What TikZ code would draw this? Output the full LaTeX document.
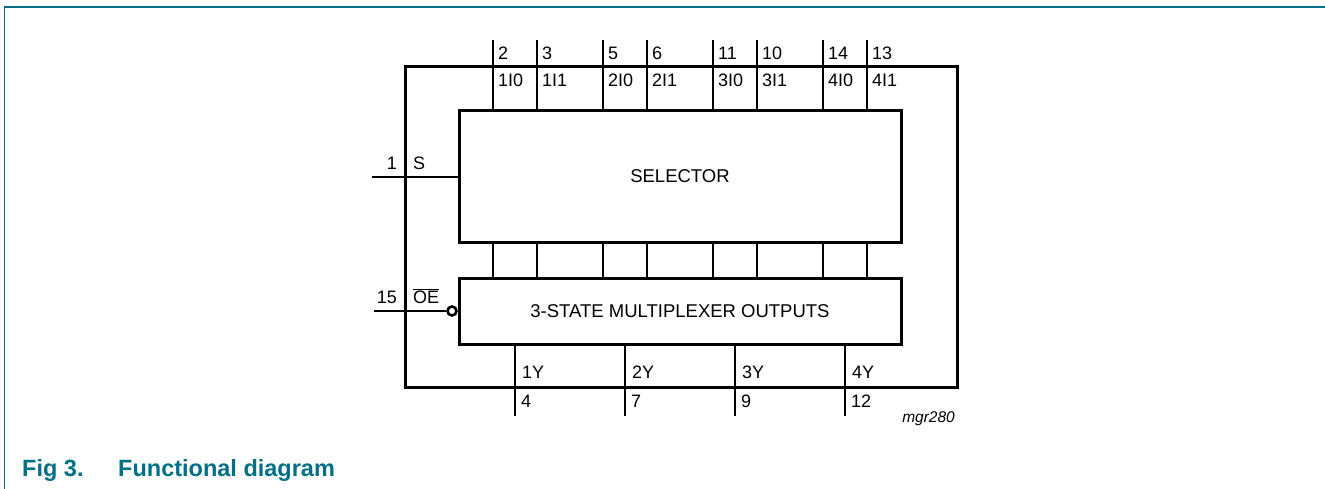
\documentclass[tikz,border=0pt]{standalone}
\usepackage{fontspec}
\setmainfont{Liberation Sans}
\definecolor{nxpteal}{RGB}{0,112,135}
\begin{document}
\begin{tikzpicture}[x=1pt,y=-1pt,
  box/.style={draw,line width=3pt,inner sep=0pt,outer sep=0pt,anchor=north west,
    font=\fontsize{18.5}{21}\selectfont},
  wire/.style={line width=1.3pt},
  lblw/.style={inner sep=0pt,anchor=base west,font=\fontsize{18}{21}\selectfont},
  lble/.style={inner sep=0pt,anchor=base east,font=\fontsize{18}{21}\selectfont},
  capt/.style={inner sep=0pt,anchor=base west,text=nxpteal,font=\fontsize{23.5}{27}\selectfont\bfseries}]
\useasboundingbox (0,0) rectangle (1325,489);
% frame
\draw[nxpteal,line width=1.3pt] (4.5,489) -- (4.5,7) -- (1325,7);
% boxes
\node[box,minimum width=552pt,minimum height=320pt] (outer) at (405,67) {};
\node[box,minimum width=442pt,minimum height=131pt] (sel) at (459,111) {SELECTOR};
\node[box,minimum width=442pt,minimum height=66pt] (mux) at (459,278) {3-STATE MULTIPLEXER OUTPUTS};
% top inputs
\foreach \x/\n/\l [count=\i] in {493/2/1I0,537/3/1I1,603/5/2I0,647/6/2I1,713/11/3I0,757/10/3I1,823/14/4I0,867/13/4I1}{
  \coordinate (t\i) at (\x,40);
  \draw[wire] (t\i) -- (t\i |- sel.north);
  \draw[wire] (t\i |- sel.south) -- (t\i |- mux.north);
  \node[lblw] (tn\i) at (\x+5,60) {\n};
  \node[lblw] (tl\i) at (\x+5,87) {\l};
}
% outputs
\foreach \x/\n/\l [count=\i] in {515/4/1Y,625/7/2Y,735/9/3Y,845/12/4Y}{
  \coordinate (o\i) at (\x,416);
  \draw[wire] (o\i |- mux.south) -- (o\i);
  \node[lblw] (ol\i) at (\x+7,378) {\l};
  \node[lblw] (on\i) at (\x+6,407) {\n};
}
% S input
\coordinate (sin) at (372,177);
\draw[wire] (sin) -- (sin -| sel.west);
\node[lble] (sn) at (397,170) {1};
\node[lblw] (sl) at (413,170) {S};
% OE input
\coordinate (oein) at (374,311);
\node[circle,draw,line width=2.6pt,minimum size=9pt,inner sep=0pt] (bub) at (452,311) {};
\draw[wire] (oein) -- (bub.west);
\node[lble] (oen) at (397,303) {15};
\node[lblw] (oel) at (413,303) {$\overline{\mbox{OE}}$};
% code
\node[inner sep=0pt,anchor=base east,font=\fontsize{15.5}{18}\selectfont\itshape] (code) at (955,422) {mgr280};
% caption
\node[capt] (fig) at (22,476) {Fig 3.};
\node[capt] (title) at (118,476) {Functional diagram};
\end{tikzpicture}
\end{document}
